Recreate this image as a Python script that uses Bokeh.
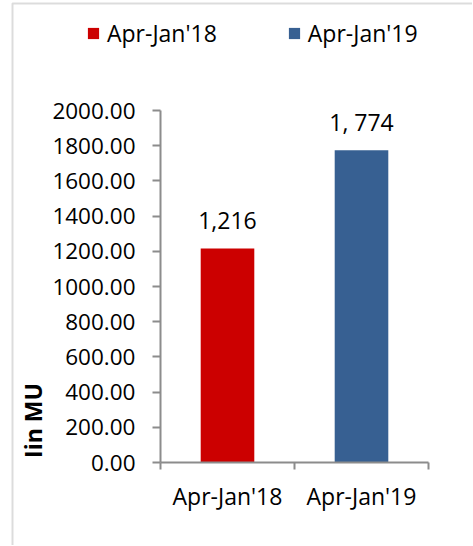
import math
from bokeh.plotting import figure
from bokeh.models import (ColumnDataSource, Range1d, FixedTicker, Legend, LegendItem,
                          LabelSet, Label, PrintfTickFormatter, BoxAnnotation)
from bokeh.core.properties import value
from bokeh.embed import file_html
from bokeh.resources import INLINE

# ---- data ----
categories = ["Apr-Jan'18", "Apr-Jan'19"]
values = [1216, 1774]
value_labels = ["1,216", "1, 774"]
colors = ["#CC0000", "#376092"]
y_ticks = [0, 200, 400, 600, 800, 1000, 1200, 1400, 1600, 1800, 2000]
y_title = "Iin MU"

FONT = "Open Sans"
FS = "23px"
AXIS_GRAY = "#8C8C8C"

# ---- layout (canvas pixels) ----
W, H = 472, 545
AX_LEFT, AX_RIGHT = 160, 428      # x-axis extent on canvas
AX_TOP, AX_BOTTOM = 110, 462      # y-axis extent on canvas

n = len(categories)
y0, y1 = y_ticks[0], y_ticks[-1]
x_per_px = n / (AX_RIGHT - AX_LEFT)
y_per_px = (y1 - y0) / (AX_BOTTOM - AX_TOP)
x_range = Range1d(0 - AX_LEFT * x_per_px, n + (W - AX_RIGHT) * x_per_px)
y_range = Range1d(y0 - (H - AX_BOTTOM) * y_per_px, y1 + AX_TOP * y_per_px)

xs = [i + 0.5 for i in range(n)]
bounds = list(range(n + 1))

src = ColumnDataSource(dict(x=xs, top=values, color=colors, cat=categories, lab=value_labels))

p = figure(width=W, height=H, x_range=x_range, y_range=y_range,
           output_backend="svg", toolbar_location=None,
           min_border_left=0, min_border_right=0, min_border_top=0, min_border_bottom=0)
p.outline_line_color = None
p.xgrid.visible = False
p.ygrid.visible = False
p.background_fill_color = "white"
p.border_fill_color = "white"

# chart-area border (left and top edges visible; right/bottom fall outside the canvas)
p.add_layout(BoxAnnotation(left=12, right=W + 20, bottom=-20, top=H - 3,
                           left_units="screen", right_units="screen",
                           bottom_units="screen", top_units="screen",
                           fill_alpha=0, line_color=AXIS_GRAY, line_width=2))

r = p.vbar(x="x", top="top", width=0.4, fill_color="color", line_color=None, source=src)

# value labels
labels = LabelSet(x="x", y="top", text="lab", source=src, text_align="center",
                  text_baseline="alphabetic", y_offset=19,
                  text_font=value(FONT), text_font_size=FS, text_color="black")
p.add_layout(labels)

# x axis
xa = p.xaxis[0]
xa.fixed_location = y0
xa.bounds = (0, n)
xa.ticker = FixedTicker(ticks=xs, minor_ticks=bounds)
xa.major_label_overrides = {x: c for x, c in zip(xs, categories)}
xa.major_tick_in = 0
xa.major_tick_out = 0
xa.minor_tick_in = 0
xa.minor_tick_out = 7
xa.minor_tick_line_color = AXIS_GRAY
xa.minor_tick_line_width = 2
xa.axis_line_color = AXIS_GRAY
xa.axis_line_width = 2
xa.major_label_text_font = FONT
xa.major_label_text_font_size = FS
xa.major_label_text_color = "black"
xa.major_label_standoff = 10

# y axis
ya = p.yaxis[0]
ya.fixed_location = 0
ya.bounds = (y0, y1)
ya.ticker = FixedTicker(ticks=y_ticks)
ya.formatter = PrintfTickFormatter(format="%.2f")
ya.major_tick_in = 0
ya.major_tick_out = 8
ya.major_tick_line_color = AXIS_GRAY
ya.major_tick_line_width = 2
ya.minor_tick_line_color = None
ya.axis_line_color = AXIS_GRAY
ya.axis_line_width = 2
ya.major_label_text_font = FONT
ya.major_label_text_font_size = "22.5px"
ya.major_label_text_color = "black"
ya.major_label_standoff = 17

# y title
p.add_layout(Label(x=32, y=H - 420, x_units="screen", y_units="screen", text=y_title,
                   angle=math.pi / 2, text_align="center", text_baseline="middle",
                   text_font=FONT, text_font_size="23px", text_font_style="bold",
                   text_color="black"))

# legend
items = [LegendItem(label=c, renderers=[r], index=i) for i, c in enumerate(categories)]
legend = Legend(items=items, orientation="horizontal", location=(86, H - 49),
                glyph_width=14, glyph_height=14, label_standoff=7, spacing=70,
                padding=0, margin=0, border_line_color=None, background_fill_alpha=0,
                label_text_font=FONT, label_text_font_size=FS, label_text_color="black")
p.add_layout(legend, "center")

open("out.html", "w").write(file_html(p, INLINE))
